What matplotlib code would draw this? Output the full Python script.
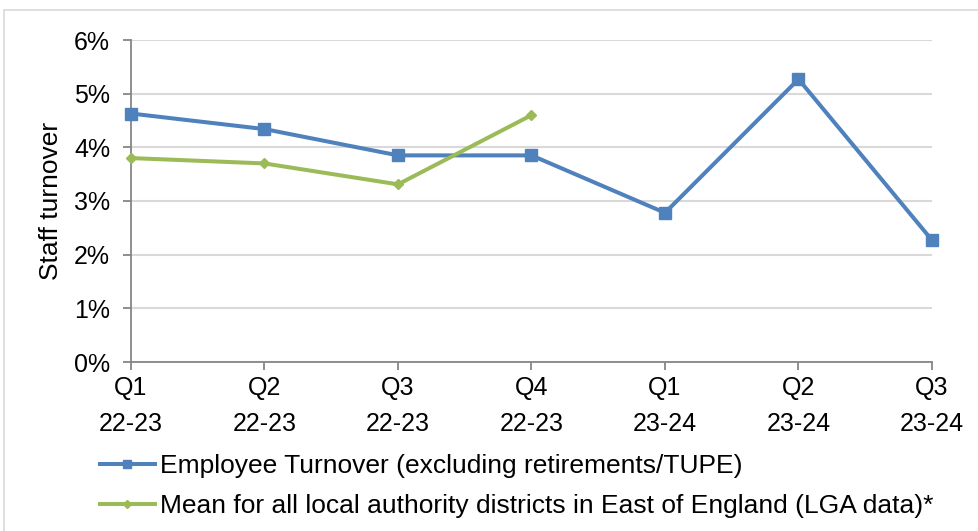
import matplotlib
matplotlib.use("Agg")
import matplotlib.pyplot as plt
from matplotlib.patches import Rectangle
from matplotlib.ticker import FuncFormatter, FixedLocator

plt.rcParams['font.family'] = ['Liberation Sans', 'DejaVu Sans']

quarters = ["Q1\n22-23", "Q2\n22-23", "Q3\n22-23", "Q4\n22-23",
            "Q1\n23-24", "Q2\n23-24", "Q3\n23-24"]
employee_turnover = [4.63, 4.34, 3.85, 3.85, 2.78, 5.27, 2.27]
lga_mean = [3.80, 3.70, 3.31, 4.60]

label_employee = "Employee Turnover (excluding retirements/TUPE)"
label_lga = "Mean for all local authority districts in East of England (LGA data)*"

blue = "#4F81BD"
green = "#9BBB59"
grid_col = "#D9D9D9"
axis_col = "#868686"

fig = plt.figure(figsize=(9.79, 5.31), dpi=100)
fig.patches.append(Rectangle((4 / 979, -0.05), 1.2, 1 - 10 / 531 + 0.05,
                             transform=fig.transFigure, fill=False,
                             edgecolor=grid_col, linewidth=1.2))

ax = fig.add_axes([131 / 979, 1 - 362 / 531, (932 - 131) / 979, (362 - 40) / 531])

x_emp = list(range(len(employee_turnover)))
x_lga = list(range(len(lga_mean)))

ln1, = ax.plot(x_emp, employee_turnover, color=blue, linewidth=2.9,
               marker='s', markersize=8, label=label_employee, zorder=3,
               clip_on=False)
ln2, = ax.plot(x_lga, lga_mean, color=green, linewidth=2.9,
               marker='D', markersize=5.5, label=label_lga, zorder=4,
               clip_on=False)

ax.set_xlim(0, len(quarters) - 1)
ax.set_ylim(0, 6)
ax.xaxis.set_major_locator(FixedLocator(range(len(quarters))))
ax.set_xticklabels(quarters)
ax.yaxis.set_major_locator(FixedLocator(range(0, 7)))
ax.yaxis.set_major_formatter(FuncFormatter(lambda v, p: f"{int(v)}%"))

ax.grid(axis='y', color=grid_col, linewidth=1.5, zorder=0)
ax.set_axisbelow(True)
for side in ['top', 'right']:
    ax.spines[side].set_visible(False)
for side in ['left', 'bottom']:
    ax.spines[side].set_color(axis_col)
    ax.spines[side].set_linewidth(1.3)

ax.tick_params(axis='both', direction='out', length=6, width=1.3,
               color=axis_col, labelsize=18, labelcolor='black')
ax.tick_params(axis='x', pad=4)
ax.tick_params(axis='y', pad=9)
for lbl in ax.get_xticklabels():
    lbl.set_linespacing(1.65)

ax.set_ylabel("Staff turnover", fontsize=19, labelpad=8)

leg = fig.legend(handles=[ln1, ln2], loc='center left',
                 bbox_to_anchor=(100 / 979, 1 - 486 / 531),
                 frameon=False, fontsize=19, handlelength=2.08,
                 handletextpad=0.19, labelspacing=0.62, borderaxespad=0,
                 borderpad=0, markerscale=0.75)

fig.savefig("out.png", dpi=100, facecolor='white')
